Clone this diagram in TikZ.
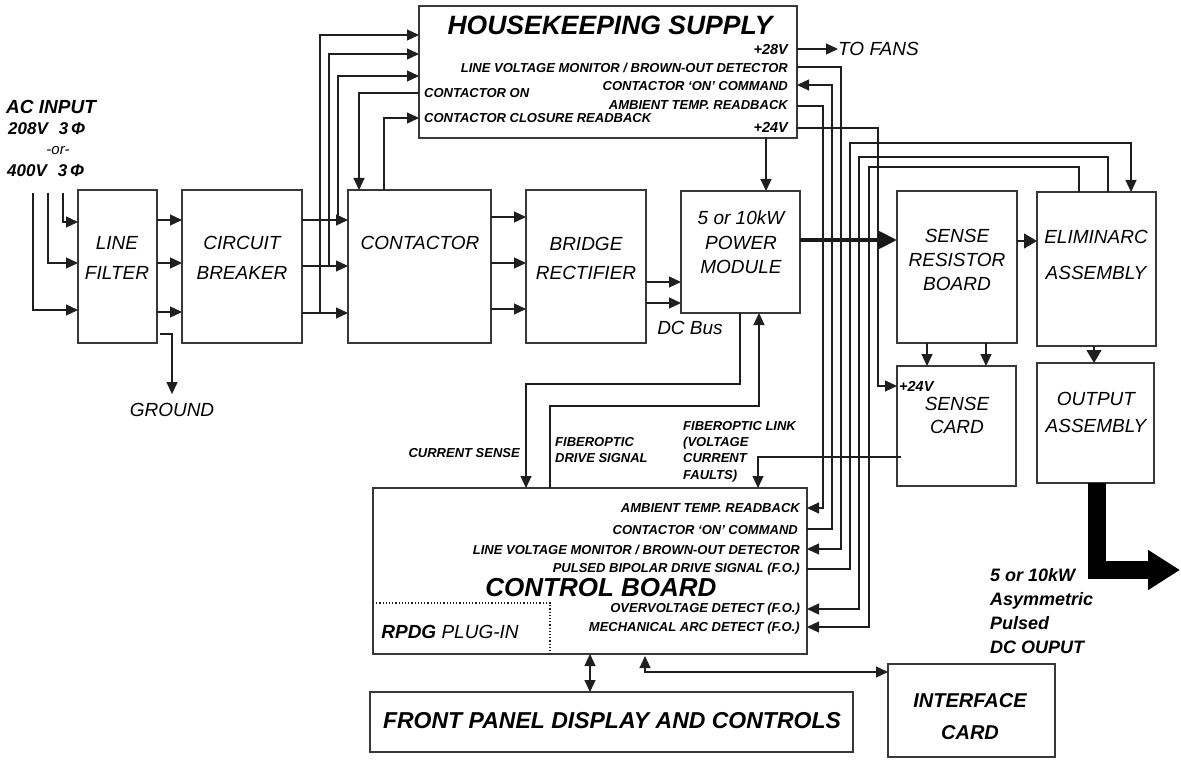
\documentclass[tikz,border=0pt]{standalone}
\usepackage{fontspec}
\setmainfont{Liberation Sans}
\usetikzlibrary{arrows.meta}
\newcommand\mkbox[5]{\node[box, minimum width={#4-#2}, minimum height={#5-#3}] (#1) at ({(#2+#4)/2},{(#3+#5)/2}) {};}
\begin{document}
\begin{tikzpicture}[x=1pt,y=-1pt,
  box/.style={draw=black!78, line width=1.6pt, inner sep=0pt, outer sep=0pt, rectangle},
  ln/.style={line width=1.2pt, draw=black!88},
  arr/.style={ln, -{Triangle[length=12pt,width=11pt]}},
  bigarr/.style={ln, -{Triangle[length=13pt,width=15pt]}},
  dbl/.style={ln, {Triangle[length=12pt,width=11pt]}-{Triangle[length=12pt,width=11pt]}},
  blk/.style={font=\fontsize{19}{#1}\selectfont\itshape, align=center, inner sep=0pt},
  bblk/.style={font=\fontsize{20}{#1}\selectfont\bfseries\itshape, align=center, inner sep=0pt},
  lbl/.style={font=\fontsize{13}{16}\selectfont\bfseries\itshape, inner sep=0pt},
  vlbl/.style={font=\fontsize{14.5}{16}\selectfont\bfseries\itshape, inner sep=0pt},
]
\fill[white] (0,0) rectangle (1181,762);
\useasboundingbox (0,0) rectangle (1181,762);

% boxes
\mkbox{hk}{419}{6}{797}{138}
\mkbox{lf}{78}{190}{157}{343}
\mkbox{cb}{182}{190}{302}{343}
\mkbox{con}{348}{190}{491}{343}
\mkbox{br}{526}{190}{646}{343}
\mkbox{pm}{681}{191}{800}{313}
\mkbox{srb}{897}{191}{1017}{343}
\mkbox{eli}{1037}{192}{1156}{346}
\mkbox{sc}{897}{366}{1016}{486}
\mkbox{oa}{1037}{363}{1154}{483}
\mkbox{cbd}{373}{488}{807}{654}
\mkbox{fp}{370}{692}{853}{752}
\mkbox{ic}{888}{664}{1055}{757}

% block texts
\node[blk=30] (lft) at (117,258) {LINE\\FILTER};
\node[blk=30] (cbt) at (242,258) {CIRCUIT\\BREAKER};
\node[blk=24] (cont) at (420,243) {CONTACTOR};
\node[blk=29] (brt) at (586,258.5) {BRIDGE\\RECTIFIER};
\node[blk=24.5] (pmt) at (741,242.5) {5 or 10kW\\POWER\\MODULE};
\node[blk=24] (srbt) at (957,260) {SENSE\\RESISTOR\\BOARD};
\node[blk=36] (elit) at (1096,255) {ELIMINARC\\ASSEMBLY};
\node[blk=23] (sct) at (957,415.5) {SENSE\\CARD};
\node[vlbl, anchor=west] (sc24) at (899,386) {+24V};
\node[blk=27] (oat) at (1096,412.5) {OUTPUT\\ASSEMBLY};
\node[bblk=32] (ict) at (970,717) {INTERFACE\\CARD};
\node[font=\fontsize{23}{23}\selectfont\bfseries\itshape, inner sep=0pt] (fpt) at (612,721) {FRONT PANEL DISPLAY AND CONTROLS};

% AC input
\node[anchor=west, font=\fontsize{19}{19}\selectfont\bfseries\itshape, inner sep=0pt] (acin) at (6,107) {AC INPUT};
\node[anchor=west, font=\fontsize{17}{17}\selectfont\bfseries\itshape, inner sep=0pt] (ac208) at (8,129) {208V\hspace{11pt}3\,Φ};
\node[font=\fontsize{15}{15}\selectfont\itshape, inner sep=0pt] (acor) at (58,151) {-or-};
\node[anchor=west, font=\fontsize{17}{17}\selectfont\bfseries\itshape, inner sep=0pt] (ac400) at (7,171) {400V\hspace{11pt}3\,Φ};
\node[blk=20] (gnd) at (172,410) {GROUND};
\node[blk=20, anchor=west] (fans) at (838,49) {TO FANS};
\node[blk=20] (dcbus) at (690,328) {DC Bus};
\node[anchor=west, align=left, font=\fontsize{18}{24}\selectfont\bfseries\itshape, inner sep=0pt] (outl) at (990,611) {5 or 10kW\\Asymmetric\\Pulsed\\DC OUPUT};

% housekeeping texts
\node[font=\fontsize{26.5}{26.5}\selectfont\bfseries\itshape, inner sep=0pt] (hkt) at (610,25) {HOUSEKEEPING SUPPLY};
\node[vlbl, anchor=east] (hk28) at (788,50) {+28V};
\node[lbl, anchor=east] (hklv) at (788,68) {LINE VOLTAGE MONITOR / BROWN-OUT DETECTOR};
\node[lbl, anchor=east] (hkcc) at (788,86) {CONTACTOR ‘ON’ COMMAND};
\node[lbl, anchor=east] (hkat) at (788,105) {AMBIENT TEMP. READBACK};
\node[vlbl, anchor=east] (hk24) at (788,127) {+24V};
\node[lbl, anchor=west] (hkco) at (424,93) {CONTACTOR ON};
\node[lbl, anchor=west] (hkcr) at (424,118) {CONTACTOR CLOSURE READBACK};

% control board texts
\node[lbl, anchor=east] (cbat) at (800,508) {AMBIENT TEMP. READBACK};
\node[lbl, anchor=east] (cbcc) at (798,530) {CONTACTOR ‘ON’ COMMAND};
\node[lbl, anchor=east] (cblv) at (800,550) {LINE VOLTAGE MONITOR / BROWN-OUT DETECTOR};
\node[lbl, anchor=east] (cbpb) at (800,569) {PULSED BIPOLAR DRIVE SIGNAL (F.O.)};
\node[font=\fontsize{26}{26}\selectfont\bfseries\itshape, inner sep=0pt] (cbdt) at (601,588) {CONTROL BOARD};
\node[lbl, anchor=east] (cbov) at (800,609) {OVERVOLTAGE DETECT (F.O.)};
\node[lbl, anchor=east] (cbma) at (800,628) {MECHANICAL ARC DETECT (F.O.)};
\draw[ln, dotted] (cbd.west |- 0,603) -| (cbd.south -| 550,0);
\node[font=\fontsize{19}{19}\selectfont\itshape, inner sep=0pt] (rpdg) at (450,632) {\bfseries RPDG \mdseries PLUG-IN};

\node[lbl, anchor=east] (cs) at (520,453) {CURRENT SENSE};
\node[lbl, anchor=west, align=left] (fds) at (555,450) {FIBEROPTIC\\DRIVE SIGNAL};
\node[lbl, anchor=west, align=left, font=\fontsize{13}{16.3}\selectfont\bfseries\itshape] (fol) at (683,451.5) {FIBEROPTIC LINK\\(VOLTAGE\\CURRENT\\FAULTS)};

% coordinates of free ends
\coordinate (in1) at (63,193);
\coordinate (in2) at (48,193);
\coordinate (in3) at (33,193);
\coordinate (j1) at (338,220);
\coordinate (j2) at (329,266);
\coordinate (j3) at (320,313);
\coordinate (dcout) at (1180,570);

% AC input lines
\draw[arr] (in1) |- (lf.west |- 0,222);
\draw[arr] (in2) |- (lf.west |- 0,263);
\draw[arr] (in3) |- (lf.west |- 0,310);
% line filter -> breaker
\foreach \yy in {220,263,312} \draw[arr] (lf.east |- 0,\yy) -- (cb.west |- 0,\yy);
% ground
\draw[arr] ([xshift=3pt]lf.east |- 0,334) -| ([yshift=9pt]gnd.north);
% breaker -> contactor
\foreach \yy in {220,266,313} \draw[arr] (cb.east |- 0,\yy) -- (con.west |- 0,\yy);
% taps to housekeeping
\draw[arr] (j1) |- (hk.west |- 0,76);
\draw[arr] (j2) |- (hk.west |- 0,54);
\draw[arr] (j3) |- (hk.west |- 0,35);
% contactor on / closure readback
\draw[arr] (hk.west |- 0,93) -| (con.north -| 359,0);
\draw[arr] (con.north -| 384,0) |- (hk.west |- 0,118);
% contactor -> bridge
\foreach \yy in {217,263,309} \draw[arr] (con.east |- 0,\yy) -- (br.west |- 0,\yy);
% bridge -> power module
\foreach \yy in {282,303} \draw[arr] (br.east |- 0,\yy) -- (pm.west |- 0,\yy);
% +24V -> power module
\draw[arr] (hk.south -| 766,0) -- (pm.north -| 766,0);
% power module -> sense resistor (thick)
\draw[line width=4pt, draw=black!90, -{Triangle[length=18pt,width=17pt]}] (pm.east |- 0,240) -- (srb.west |- 0,240);
% sense resistor -> eliminarc
\draw[bigarr] (srb.east |- 0,241) -- (eli.west |- 0,241);
% sense resistor -> sense card
\draw[arr] (srb.south -| 927,0) -- (sc.north -| 927,0);
\draw[arr] (srb.south -| 986,0) -- (sc.north -| 986,0);
% eliminarc -> output
\draw[bigarr] (eli.south -| 1094,0) -- (oa.north -| 1094,0);
% output big arrow
\draw[line width=18pt, draw=black, line join=miter, -{Triangle[length=32pt,width=38pt]}] (oa.south -| 1097,0) |- (dcout);

% housekeeping right side
\draw[arr] (hk.east |- 0,49) -- (fans.west);
\draw[arr] (hk.east |- 0,67) -| (841,549) -- (cbd.east |- 0,549);
\draw[arr] (cbd.east |- 0,529) -| (832,85) -- (hk.east |- 0,85);
\draw[arr] (hk.east |- 0,106) -| (823,508) -- (cbd.east |- 0,508);
\draw[arr] (hk.east |- 0,128) -| (878,386) -- (sc.west |- 0,386);
\draw[arr] (cbd.east |- 0,569) -| (850,143) -| (eli.north -| 1131,0);
\draw[arr] (eli.north -| 1108,0) |- (859,157) |- (cbd.east |- 0,609);
\draw[arr] (eli.north -| 1079,0) |- (869,167) |- (cbd.east |- 0,627);

% power module <-> control board
\draw[arr] (pm.south -| 740,0) |- (526,384) -- (cbd.north -| 526,0);
\draw[arr] (cbd.north -| 550,0) |- (759,406) -- (pm.south -| 759,0);
% fiberoptic link from sense card
\draw[arr] ([xshift=4pt]sc.west |- 0,457) -| (cbd.north -| 758,0);

% bottom
\draw[dbl] (cbd.south -| 590,0) -- (fp.north -| 590,0);
\draw[dbl] ([yshift=-2pt]cbd.south -| 645,0) |- (ic.west |- 0,672);
\end{tikzpicture}
\end{document}
